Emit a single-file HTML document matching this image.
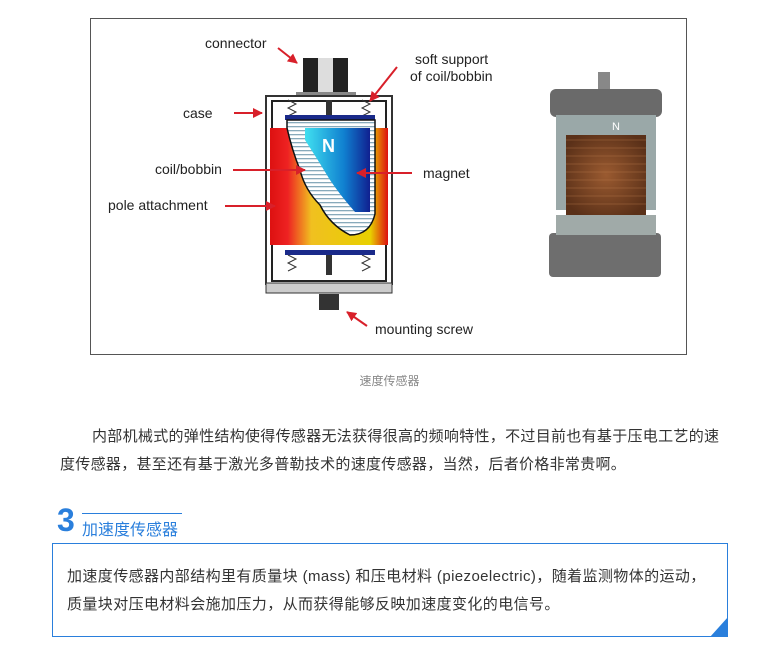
<!DOCTYPE html>
<html><head><meta charset="utf-8">
<style>
html,body{margin:0;padding:0;background:#fff;}
body{width:779px;height:658px;position:relative;overflow:hidden;font-family:"Liberation Sans","Noto Sans CJK SC",sans-serif;}
.a{position:absolute;white-space:nowrap;}
.p{font-size:15px;color:#333;letter-spacing:0.3px;}
.q{font-size:15px;color:#333;letter-spacing:0.4px;}
</style></head><body>
<div class="a" style="left:90px;top:18px;width:597px;height:337px;border:1px solid #555;box-sizing:border-box;"></div>
<svg class="a" style="left:0;top:0" width="779" height="360" viewBox="0 0 779 360">
<defs>
<linearGradient id="pg" x1="0" x2="1"><stop offset="0" stop-color="#d11"/><stop offset="0.15" stop-color="#e22"/><stop offset="0.35" stop-color="#f0c020"/><stop offset="0.85" stop-color="#e8d000"/><stop offset="1" stop-color="#d11"/></linearGradient>
<linearGradient id="mg" x1="0" x2="1"><stop offset="0" stop-color="#40e0f0"/><stop offset="0.6" stop-color="#1080d0"/><stop offset="1" stop-color="#102090"/></linearGradient>
<pattern id="hs" width="4" height="4" patternUnits="userSpaceOnUse"><rect width="4" height="4" fill="#fff"/><rect y="2" width="4" height="1.3" fill="#8ab"/></pattern>
<marker id="ar" viewBox="0 0 10 10" refX="9" refY="5" markerWidth="5" markerHeight="5" orient="auto"><path d="M0,0L10,5L0,10z" fill="#d8202a"/></marker>
<radialGradient id="cu" cx="0.5" cy="0.5" r="0.6"><stop offset="0" stop-color="#9a5a30"/><stop offset="1" stop-color="#5a3018"/></radialGradient>
</defs>
<rect x="303" y="58" width="45" height="36" fill="#222"/>
<rect x="318" y="58" width="15" height="36" fill="#ddd"/>
<rect x="296" y="92" width="60" height="5" fill="#888"/>
<rect x="266" y="96" width="126" height="188" fill="#fff" stroke="#333" stroke-width="2"/>
<rect x="272" y="101" width="114" height="180" fill="none" stroke="#222" stroke-width="2"/>
<rect x="266" y="283" width="126" height="10" fill="#ccc" stroke="#333"/>
<path d="M288,100l8,4l-8,4l8,4l-8,4 M362,100l8,4l-8,4l8,4l-8,4 M288,255l8,4l-8,4l8,4l-8,4 M362,255l8,4l-8,4l8,4l-8,4" stroke="#333" fill="none"/>
<rect x="326" y="100" width="6" height="18" fill="#333"/>
<rect x="326" y="250" width="6" height="25" fill="#333"/>
<rect x="285" y="115" width="90" height="5" fill="#1a2a8a"/>
<rect x="285" y="250" width="90" height="5" fill="#1a2a8a"/>
<rect x="270" y="128" width="118" height="117" fill="url(#pg)"/>
<path d="M287,120 L375,120 L375,214 Q370,235 350,235 Q330,225 320,205 Q305,190 300,170 Q292,150 287,128z" fill="url(#hs)" stroke="#111" stroke-width="1.5"/>
<path d="M305,128 L370,128 L370,212 L355,212 Q340,195 330,180 Q318,160 305,140z" fill="url(#mg)"/>
<text x="322" y="152" font-size="18" font-weight="bold" fill="#fff" font-family="Liberation Sans">N</text>
<rect x="319" y="294" width="20" height="16" fill="#333"/>
<g font-family="Liberation Sans" font-size="14" fill="#222">
<text x="205" y="48">connector</text>
<text x="415" y="64">soft support</text>
<text x="410" y="81">of coil/bobbin</text>
<text x="183" y="118">case</text>
<text x="155" y="174">coil/bobbin</text>
<text x="423" y="178">magnet</text>
<text x="108" y="210">pole attachment</text>
<text x="375" y="334">mounting screw</text>
</g>
<g stroke="#d8202a" stroke-width="2" marker-end="url(#ar)" fill="none">
<line x1="278" y1="48" x2="297" y2="63"/>
<line x1="397" y1="67" x2="370" y2="101"/>
<line x1="234" y1="113" x2="262" y2="113"/>
<line x1="233" y1="170" x2="305" y2="170"/>
<line x1="412" y1="173" x2="357" y2="173"/>
<line x1="225" y1="206" x2="275" y2="206"/>
<line x1="367" y1="326" x2="347" y2="312"/>
</g>
<rect x="598" y="72" width="12" height="20" fill="#888"/>
<rect x="550" y="89" width="112" height="28" rx="6" fill="#6a6a6a"/>
<rect x="556" y="115" width="100" height="95" fill="#9aa8a8"/>
<rect x="566" y="135" width="80" height="80" fill="url(#cu)"/>
<g stroke="#c08050" stroke-width="0.6" opacity="0.7">
<line x1="566" y1="140" x2="646" y2="140"/><line x1="566" y1="148" x2="646" y2="148"/><line x1="566" y1="156" x2="646" y2="156"/><line x1="566" y1="164" x2="646" y2="164"/><line x1="566" y1="172" x2="646" y2="172"/><line x1="566" y1="180" x2="646" y2="180"/><line x1="566" y1="188" x2="646" y2="188"/><line x1="566" y1="196" x2="646" y2="196"/><line x1="566" y1="204" x2="646" y2="204"/>
</g>
<text x="612" y="130" font-size="11" fill="#fff" font-family="Liberation Sans">N</text>
<rect x="549" y="233" width="112" height="44" rx="4" fill="#6e6e6e"/>
<rect x="556" y="215" width="100" height="20" fill="#a0aaa8"/>
</svg>
<div class="a" style="left:0;width:779px;top:372px;text-align:center;font-size:12px;color:#888;">速度传感器</div>
<div class="a p" style="left:92px;top:425px;">内部机械式的弹性结构使得传感器无法获得很高的频响特性，不过目前也有基于压电工艺的速</div>
<div class="a p" style="left:60px;top:453px;">度传感器，甚至还有基于激光多普勒技术的速度传感器，当然，后者价格非常贵啊。</div>
<div class="a" style="left:57px;top:502px;font-size:32px;font-weight:bold;color:#2a7fdc;line-height:36px;">3</div>
<div class="a" style="left:82px;top:513px;width:100px;height:1px;background:#2a7fdc;"></div>
<div class="a" style="left:82px;top:516px;font-size:16px;color:#2a7fdc;">加速度传感器</div>
<div class="a" style="left:52px;top:543px;width:676px;height:94px;border:1px solid #2a7fdc;box-sizing:border-box;"></div>
<svg class="a" style="left:710px;top:617px" width="18" height="20"><path d="M18,0 L18,20 L0,20z" fill="#2a7fdc"/></svg>
<div class="a q" style="left:67px;top:565px;">加速度传感器内部结构里有质量块 (mass) 和压电材料 (piezoelectric)，随着监测物体的运动，</div>
<div class="a q" style="left:67px;top:593px;">质量块对压电材料会施加压力，从而获得能够反映加速度变化的电信号。</div>
</body></html>
